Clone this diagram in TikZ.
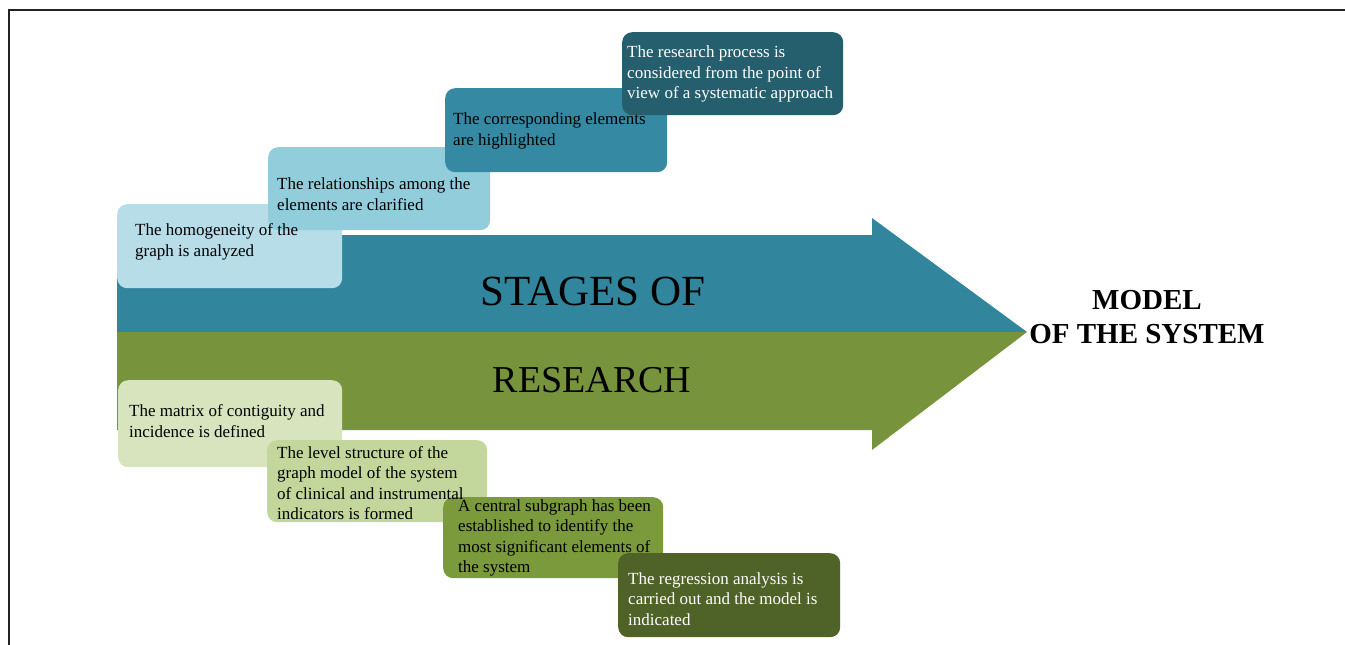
\documentclass[tikz,border=0pt]{standalone}
\usepackage{fontspec}
\setmainfont{Liberation Serif}
\definecolor{bandblue}{HTML}{31859C}
\definecolor{bandgreen}{HTML}{77933C}
\definecolor{ub1}{HTML}{B7DDE8}
\definecolor{ub2}{HTML}{92CDDC}
\definecolor{ub3}{HTML}{3589A3}
\definecolor{ub4}{HTML}{255E6C}
\definecolor{lb1}{HTML}{D7E4BD}
\definecolor{lb2}{HTML}{C3D69B}
\definecolor{lb3}{HTML}{7B9A3C}
\definecolor{lb4}{HTML}{4F6228}
\definecolor{framegray}{HTML}{222222}
\begin{document}
\begin{tikzpicture}[x=1pt,y=-1pt,
  stagebox/.style={rectangle, rounded corners=10pt, draw=none, anchor=north west, inner sep=0pt},
  stagetxt/.style={anchor=west, align=left, inner sep=0pt, font=\fontsize{17}{20.5}\selectfont},
  bigtxt/.style={inner sep=0pt, font=\fontsize{43}{50}\selectfont},
  goaltxt/.style={inner sep=0pt, align=center, font=\fontsize{29}{34}\selectfont\bfseries}]
\useasboundingbox (0,0) rectangle (1345,645);
% frame
\coordinate (fTL) at (9,10);
\coordinate (fTR) at (1345,10);
\coordinate (fBL) at (9,645);
\draw[framegray, line width=1.3pt] (fBL) -- (fTL) -- (fTR);
% arrow
\fill[bandblue] (117,235) -- (872,235) -- (872,218) -- (1027,332) -- (117,332) -- cycle;
\fill[bandgreen] (117,332) -- (1027,332) -- (872,450) -- (872,430) -- (117,430) -- cycle;
\node[bigtxt] (stages) at (593,291) {STAGES OF};
\node[bigtxt, font=\fontsize{38}{44}\selectfont] (research) at (592,380) {RESEARCH};
\node[goaltxt] (goal) at (1147,317) {MODEL\\OF THE SYSTEM};
% upper boxes
\node[stagebox, fill=ub1, minimum width=225pt, minimum height=84pt] (b1) at (117,204) {};
\node[stagebox, fill=ub2, minimum width=222pt, minimum height=83pt] (b2) at (268,147) {};
\node[stagebox, fill=ub3, minimum width=222pt, minimum height=84pt] (b3) at (445,88) {};
\node[stagebox, fill=ub4, minimum width=221pt, minimum height=83pt] (b4) at (622,32) {};
% lower boxes
\node[stagebox, fill=lb1, minimum width=224pt, minimum height=87pt] (l1) at (118,380) {};
\node[stagebox, fill=lb2, minimum width=220pt, minimum height=82pt] (l2) at (267,440) {};
\node[stagebox, fill=lb3, minimum width=220pt, minimum height=81pt] (l3) at (443,497) {};
\node[stagebox, fill=lb4, minimum width=222pt, minimum height=84pt] (l4) at (618,553) {};
% texts
\node[stagetxt] (t1) at (135,242) {The homogeneity of the\\graph is analyzed};
\node[stagetxt] (t2) at (277,194) {The relationships among the\\elements are clarified};
\node[stagetxt] (t3) at (453,131) {The corresponding elements\\are highlighted};
\node[stagetxt, text=white] (t4) at (627,74) {The research process is\\considered from the point of\\view of a systematic approach};
\node[stagetxt] (s1) at (129,421) {The matrix of contiguity and\\incidence is defined};
\node[stagetxt] (s2) at (277,483) {The level structure of the\\graph model of the system\\of clinical and instrumental\\indicators is formed};
\node[stagetxt] (s3) at (458,538) {A central subgraph has been\\established to identify the\\most significant elements of\\the system};
\node[stagetxt, text=white] (s4) at (628,599) {The regression analysis is\\carried out and the model is\\indicated};
\end{tikzpicture}
\end{document}
